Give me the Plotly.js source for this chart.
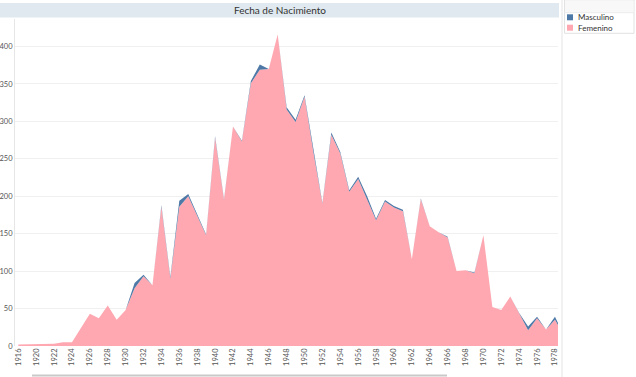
<!DOCTYPE html>
<html>
<head>
<meta charset="utf-8">
<script src="https://cdn.plot.ly/plotly-3.0.1.min.js"></script>
<style>
  html, body { margin: 0; padding: 0; background: #ffffff; }
  #chart { width: 636px; height: 377px; }
</style>
</head>
<body>
<div id="chart"></div>
<script>
// ---- data ----
const years = ['1916','1918','1920','1921','1922','1923','1924','1925','1926','1927',
  '1928','1929','1930','1931','1932','1933','1934','1935','1936','1937',
  '1938','1939','1940','1941','1942','1943','1944','1945','1946','1947',
  '1948','1949','1950','1951','1952','1953','1954','1955','1956','1957',
  '1958','1959','1960','1961','1962','1963','1964','1965','1966','1967',
  '1968','1969','1970','1971','1972','1973','1974','1975','1976','1977',
  '1978','1979'];

const femenino = [2, 2, 3, 2, 3, 5, 5, 24, 43, 37,
  54, 35, 48, 77, 93, 81, 186, 90, 186, 200,
  175, 148, 278, 195, 293, 273, 351, 369, 370, 416,
  316, 299, 333, 258, 190, 282, 257, 206, 223, 196,
  168, 193, 185, 180, 116, 196, 160, 152, 145, 100,
  101, 97, 148, 52, 48, 66, 44, 21, 37, 22,
  35, 15];

const masculino = [0, 0, 0, 0, 0, 0, 0, 0, 0, 0,
  0, 0, 0, 7, 2, 0, 2, 2, 8, 3,
  0, 1, 2, 1, 0, 1, 3, 7, 0, 0,
  3, 3, 2, 2, 1, 3, 2, 2, 3, 4,
  2, 2, 2, 2, 0, 1, 0, 0, 1, 0,
  0, 1, 0, 0, 0, 0, 0, 5, 2, 0,
  4, 0];

const yTicks = [0, 50, 100, 150, 200, 250, 300, 350, 400];
const xTickLabels = ['1916','1920','1922','1924','1926','1928','1930','1932','1934','1936',
  '1938','1940','1942','1944','1946','1948','1950','1952','1954','1956',
  '1958','1960','1962','1964','1966','1968','1970','1972','1974','1976','1978'];

const seriesNames = ['Masculino', 'Femenino'];
const colors = { Masculino: '#4e79a7', Femenino: '#ffa8b1' };

// ---- geometry helpers (pixel -> paper) ----
const W = 636, H = 377;
const M = { l: 15, r: 78, t: 19, b: 31 };
const PW = W - M.l - M.r, PH = H - M.t - M.b;
const px = x => (x - M.l) / PW;
const py = y => (H - M.b - y) / PH;

const FONT = 'Lato, "Liberation Sans", Arial, sans-serif';

const traces = [
  {
    x: years, y: femenino, name: 'Femenino', type: 'scatter', mode: 'lines',
    stackgroup: 'one', line: { width: 0, color: colors.Femenino },
    fillcolor: colors.Femenino, hoverinfo: 'x+y+name'
  },
  {
    x: years, y: masculino, name: 'Masculino', type: 'scatter', mode: 'lines',
    stackgroup: 'one', line: { width: 0, color: colors.Masculino },
    fillcolor: colors.Masculino, hoverinfo: 'x+y+name'
  }
];

const shapes = [
  // title band
  { type: 'rect', xref: 'paper', yref: 'paper', x0: px(0), x1: px(559), y0: py(17.5), y1: py(3),
    fillcolor: '#dfe9ef', line: { width: 0 }, layer: 'below' },
  // pane divider
  { type: 'line', xref: 'paper', yref: 'paper', x0: px(562), x1: px(562), y0: py(377), y1: py(0),
    line: { color: '#e4e4e4', width: 1 } },
  // legend box
  { type: 'rect', xref: 'paper', yref: 'paper', x0: px(564.5), x1: px(634), y0: py(33.3), y1: py(0),
    fillcolor: '#ffffff', line: { color: '#e2e2e2', width: 1 } },
  { type: 'rect', xref: 'paper', yref: 'paper', x0: px(565), x1: px(633.5), y0: py(12.7), y1: py(0.5),
    fillcolor: '#f8f8f8', line: { width: 0 } },
  { type: 'line', xref: 'paper', yref: 'paper', x0: px(564.5), x1: px(634), y0: py(12.7), y1: py(12.7),
    line: { color: '#ececec', width: 1 } },
  // legend swatches
  { type: 'rect', xref: 'paper', yref: 'paper', x0: px(567), x1: px(573), y0: py(20.3), y1: py(14.3),
    fillcolor: colors.Masculino, line: { width: 0 } },
  { type: 'rect', xref: 'paper', yref: 'paper', x0: px(567), x1: px(573), y0: py(30.7), y1: py(24.7),
    fillcolor: colors.Femenino, line: { width: 0 } },
  // scrollbar
  { type: 'line', xref: 'paper', yref: 'paper', x0: px(32), x1: px(447), y0: py(375.5), y1: py(375.5),
    line: { color: '#c9c9c9', width: 2 } }
];

const annotations = seriesNames.map((n, i) => ({
  xref: 'paper', yref: 'paper', x: px(576), y: py(17.5 + i * 10.4),
  xanchor: 'left', yanchor: 'middle', showarrow: false, text: n,
  font: { family: FONT, size: 8, color: '#333333' }
}));

const layout = {
  width: W, height: H,
  margin: M,
  paper_bgcolor: '#ffffff', plot_bgcolor: '#ffffff',
  showlegend: false,
  title: {
    text: 'Fecha de Nacimiento',
    xref: 'container', yref: 'container',
    x: 280 / W, y: 1 - 10.3 / H, xanchor: 'center', yanchor: 'middle',
    font: { family: FONT, size: 10, color: '#333333' }
  },
  xaxis: {
    type: 'category',
    range: [-0.37, 60.34],
    tickmode: 'array', tickvals: xTickLabels, ticktext: xTickLabels,
    tickangle: -90,
    tickfont: { family: FONT, size: 7.5, color: '#555555' },
    showgrid: false, zeroline: false, showline: false, ticks: '',
    fixedrange: true
  },
  yaxis: {
    range: [0, 436.7],
    tickmode: 'array', tickvals: yTicks,
    tickfont: { family: FONT, size: 7.5, color: '#555555' },
    showgrid: true, gridcolor: '#f0f0f0', gridwidth: 1,
    zeroline: false, showline: true, linecolor: '#e6e6e6', linewidth: 1,
    ticks: '', fixedrange: true
  },
  shapes: shapes,
  annotations: annotations
};

Plotly.newPlot('chart', traces, layout, { displayModeBar: false, staticPlot: true });
</script>
</body>
</html>
